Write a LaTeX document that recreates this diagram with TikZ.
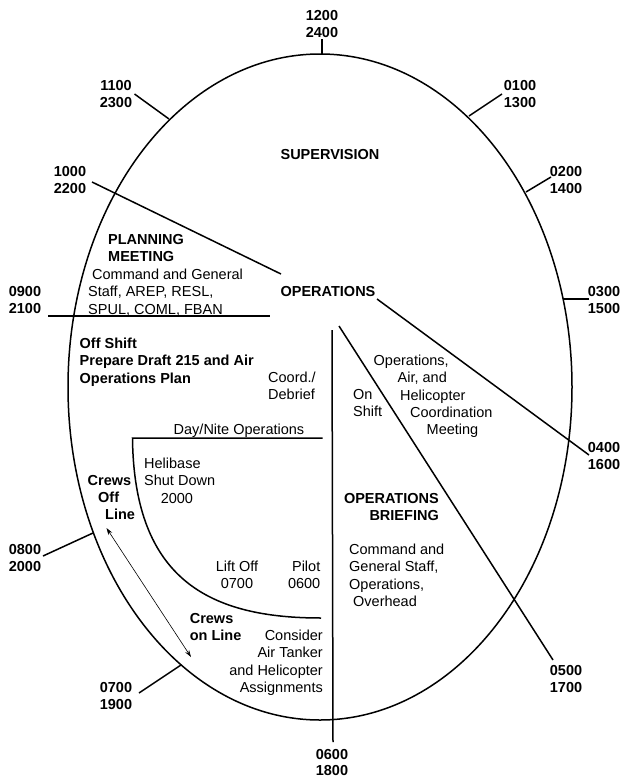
\documentclass[tikz,border=0pt]{standalone}
\usepackage{fontspec}
\setmainfont{Liberation Sans}
\usetikzlibrary{arrows.meta}
\begin{document}
\begin{tikzpicture}[x=1pt,y=-1pt,
  line/.style={line width=1.5pt},
  txt/.style={font=\fontsize{14.5}{17.3}\selectfont, inner sep=0pt},
  bt/.style={inner sep=0pt, font=\fontsize{14.5}{17.3}\selectfont\bfseries},
  lbl/.style={bt, align=center, anchor=north}]
\useasboundingbox (0,0) rectangle (627,779);
% clock face
\draw[line] (320,387) ellipse [x radius=252pt, y radius=333pt];
% time labels
\node[lbl] (t12) at (322,9.7) {1200\\2400};
\node[lbl] (t11) at (116,79.7) {1100\\2300};
\node[lbl] (t01) at (520,79.7) {0100\\1300};
\node[lbl] (t10) at (70,165.7) {1000\\2200};
\node[lbl] (t02) at (566,165.7) {0200\\1400};
\node[lbl] (t09) at (25,285.7) {0900\\2100};
\node[lbl] (t03) at (604,285.7) {0300\\1500};
\node[lbl] (t04) at (604,441.7) {0400\\1600};
\node[lbl] (t08) at (25,543.7) {0800\\2000};
\node[lbl] (t05) at (566,664.7) {0500\\1700};
\node[lbl] (t07) at (116,681.7) {0700\\1900};
\node[lbl, font=\fontsize{14.5}{16}\selectfont\bfseries] (t06) at (332,749.5) {0600\\1800};
% tick ends
\coordinate (a12) at (322,39);  \coordinate (b12) at (322,54);
\coordinate (a11) at (134.5,94); \coordinate (b11) at (169,119);
\coordinate (a01) at (502,94);  \coordinate (b01) at (469,116);
\coordinate (a02) at (551,177); \coordinate (b02) at (526,192);
\coordinate (a03) at (589,299); \coordinate (b03) at (563,299);
\coordinate (a08) at (43,556);  \coordinate (b08) at (93,533);
\coordinate (a07) at (139,693); \coordinate (b07) at (181,665);
\draw[line] (a12) -- (b12);
\draw[line] (a11) -- (b11);
\draw[line] (a01) -- (b01);
\draw[line] (a02) -- (b02);
\draw[line] (a03) -- (b03);
\draw[line] (a08) -- (b08);
\draw[line] (a07) -- (b07);
% dividing lines
\coordinate (a10) at (92,182);   \coordinate (b10) at (281,274);
\coordinate (a09) at (48,316);   \coordinate (b09) at (270,316);
\coordinate (a04) at (377,299);  \coordinate (b04) at (589,455);
\coordinate (a05) at (339,326);  \coordinate (b05) at (553,660);
\coordinate (a06) at (332,330);  \coordinate (b06) at (333,742);
\draw[line] (a10) -- (b10);
\draw[line] (a09) -- (b09);
\draw[line] (a04) -- (b04);
\draw[line] (a05) -- (b05);
\draw[line] (a06) -- (b06);
% day/nite line and curve
\coordinate (dn1) at (322.5,438); \coordinate (dn2) at (132.5,438); \coordinate (dn3) at (321,618);
\draw[line] (dn1) -- (dn2) .. controls (134,580) and (210,618) .. (dn3);
% crews arrow
\coordinate (ar1) at (106.5,528); \coordinate (ar2) at (191,657);
\draw[line width=0.6pt, {Stealth[length=7pt,width=4.5pt]}-{Stealth[length=7pt,width=4.5pt]}] (ar1) -- (ar2);
% texts
\node[bt, anchor=north] (sup) at (330,148.7) {SUPERVISION};
\node[bt, anchor=north] (ops) at (328,285.7) {OPERATIONS};
\node[bt, align=left, anchor=north west] (plan) at (108,233.7) {PLANNING\\MEETING};
\node[txt, align=left, anchor=north west] (cgs) at (88,268.7) {\hspace*{4pt}Command and General\\Staff, AREP, RESL,\\SPUL, COML, FBAN};
\node[bt, align=left, anchor=north west] (off) at (79.5,337.7) {Off Shift\\Prepare Draft 215 and Air\\Operations Plan};
\node[txt, align=left, anchor=north west] (coord) at (268,371.7) {Coord./\\Debrief};
\node[txt, align=left, anchor=north west] (onsh) at (353,388.7) {On\\Shift};
\node[txt, align=left, anchor=north west] (oahc) at (373.5,354.7) {Operations,\\\hspace*{24pt}Air, and\\\hspace*{26.5pt}Helicopter\\\hspace*{36.5pt}Coordination\\\hspace*{53pt}Meeting};
\node[txt, anchor=north west] (dnop) at (173.5,423.7) {Day/Nite Operations};
\node[txt, align=left, anchor=north west] (heli) at (144,457.7) {Helibase\\Shut Down\\\hspace*{16.6pt}2000};
\node[bt, align=left, anchor=north west] (cof) at (87.5,474.7) {Crews\\\hspace*{10.5pt}Off\\\hspace*{17.5pt}Line};
\node[bt, align=right, anchor=north east] (opb) at (439,492.7) {OPERATIONS\\BRIEFING};
\node[txt, align=left, anchor=north west] (cgso) at (349,543.7) {Command and\\General Staff,\\Operations,\\\hspace*{4pt}Overhead};
\node[txt, align=center, anchor=north] (lift) at (237,560.7) {Lift Off\\0700};
\node[txt, align=right, anchor=north east] (pilot) at (320.5,560.7) {Pilot\\0600};
\node[bt, align=left, anchor=north west] (con) at (189.6,612.7) {Crews\\on Line};
\node[txt, align=right, anchor=north east] (cons) at (323,629.7) {Consider\\Air Tanker\\and Helicopter\\Assignments};
\end{tikzpicture}
\end{document}
